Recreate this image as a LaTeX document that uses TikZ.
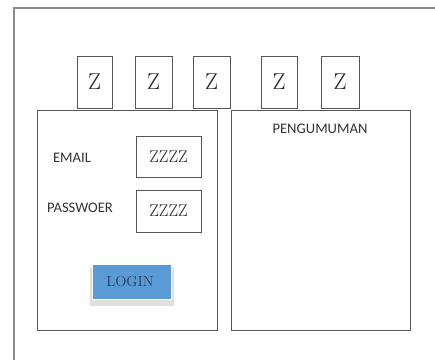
\documentclass[tikz,border=0pt]{standalone}
\usepackage{fontspec}
\newfontfamily\labelfont{Carlito}
\definecolor{linegray}{HTML}{555555}
\definecolor{framegray}{HTML}{8A8A8A}
\definecolor{btnblue}{HTML}{5B9BD5}
\definecolor{btntext}{HTML}{1F3864}
\begin{document}
\begin{tikzpicture}[x=1pt,y=-1pt,
  box/.style={draw=linegray,line width=1pt,fill=white},
  ztext/.style={font=\fontsize{23}{23}\selectfont,text=black!85},
  lbl/.style={font=\labelfont\fontsize{14.6}{15}\selectfont,text=black!80},
  inputtext/.style={font=\fontsize{17}{17}\selectfont,text=black!85}]
\useasboundingbox (0,0) rectangle (435,360);
\fill[white] (0,0) rectangle (435,360);
% outer frame (open on right and bottom)
\draw[framegray,line width=1.5pt] (14,360) -- (14,8) -- (435,8);
% panels
\draw[box] (37,110) rectangle (217,330);
\draw[box] (231,110) rectangle (410,330);
% tabs
\foreach \n/\a/\b in {z1/77/112, z2/135/172, z3/193/230, z4/261/297, z5/321/359}{
  \draw[box] (\a,56) rectangle (\b,108);
  \node[ztext] (\n) at ({(\a+\b)/2},82) {Z};
}
% labels
\node[lbl] (email) at (72,158) {EMAIL};
\node[lbl] (pass) at (80,208) {PASSWOER};
\node[lbl] (peng) at (320,129) {PENGUMUMAN};
% inputs
\draw[box] (136,136) rectangle (201,177);
\node[inputtext] (in1) at (168.5,157) {ZZZZ};
\draw[box] (136,190) rectangle (201,232);
\node[inputtext] (in2) at (168.5,211) {ZZZZ};
% login button
\fill[black!12] (90,268) rectangle (174,306);
\draw[draw=white,line width=1pt,fill=btnblue] (92,264) rectangle (171,299);
\node[font=\fontsize{14.6}{15}\selectfont,text=btntext] (login) at (130,282) {LOGIN};
\end{tikzpicture}
\end{document}
